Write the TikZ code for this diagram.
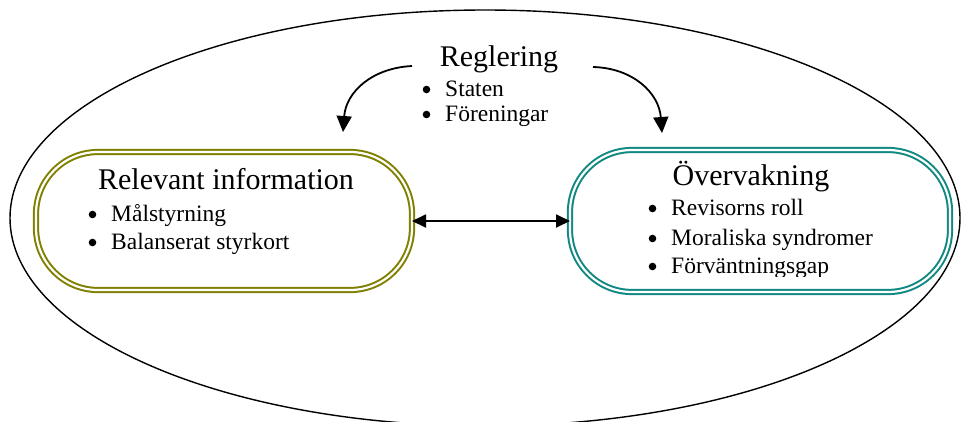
\documentclass[tikz,border=0pt]{standalone}
\usepackage{fontspec}
\setmainfont{Liberation Serif}
\usetikzlibrary{arrows.meta}
\definecolor{boxolive}{RGB}{128,128,0}
\definecolor{boxteal}{RGB}{16,136,130}
\tikzset{
  pill/.style={draw=#1, line width=2pt, double=white, double distance=2.2pt,
    rectangle, rounded corners=62pt, inner sep=0pt, outer sep=0pt},
  heading/.style={font=\fontsize{30}{36}\selectfont, anchor=base, inner sep=0pt},
  item/.style={font=\fontsize{23.5}{28}\selectfont, anchor=base west, inner sep=0pt},
  bendarrow/.style={line width=1.8pt, -{Triangle[length=16pt,width=15pt]}},
  linkarrow/.style={line width=1.8pt, {Triangle[length=14pt,width=13pt]}-{Triangle[length=14pt,width=13pt]}}
}
% a list bullet in front of the given item node
\newcommand{\bulletfor}[1]{\fill ([xshift=-18.5pt,yshift=6.5pt]#1.base west) circle (3.8pt);}
\begin{document}
\begin{tikzpicture}[x=1pt,y=-1pt]
\useasboundingbox (0,0) rectangle (961,421);

% surrounding ellipse
\draw[line width=1.4pt] (485,218) ellipse [x radius=475, y radius=208];

% the two framed areas
\node[pill=boxolive, minimum width=376pt, minimum height=138pt] (boxL) at (224,221) {};
\node[pill=boxteal, minimum width=380pt, minimum height=142pt] (boxR) at (760,221) {};

% regulation
\node[heading] (reg) at (499,66) {Reglering};
\node[item] (regA) at (445,96) {Staten};
\node[item] (regB) at (445,121) {Föreningar};

% relevant information
\node[heading] (relT) at (226,189) {Relevant information};
\node[item] (relA) at (111,221) {Målstyrning};
\node[item] (relB) at (111,249) {Balanserat styrkort};

% monitoring
\node[heading] (ovT) at (751,185) {Övervakning};
\node[item] (ovA) at (671,215) {Revisorns roll};
\node[item] (ovB) at (671,245) {Moraliska syndromer};
\begin{scope}
  \clip (600,250) rectangle (900,276);
  \node[item] (ovC) at (671,273) {Förväntningsgap};
\end{scope}

% bullets
\bulletfor{regA} \bulletfor{regB}
\bulletfor{relA} \bulletfor{relB}
\bulletfor{ovA} \bulletfor{ovB} \bulletfor{ovC}

% arrows
\coordinate (lstart) at (412,66);
\coordinate (lend) at (343,132);
\coordinate (rstart) at (593,67);
\coordinate (rend) at (662,133);
\draw[bendarrow] (lstart) .. controls (372,68) and (346,92) .. (lend);
\draw[bendarrow] (rstart) .. controls (633,68) and (659,93) .. (rend);
\draw[linkarrow] (boxL.east) -- (boxL.east -| boxR.west);
\end{tikzpicture}
\end{document}
